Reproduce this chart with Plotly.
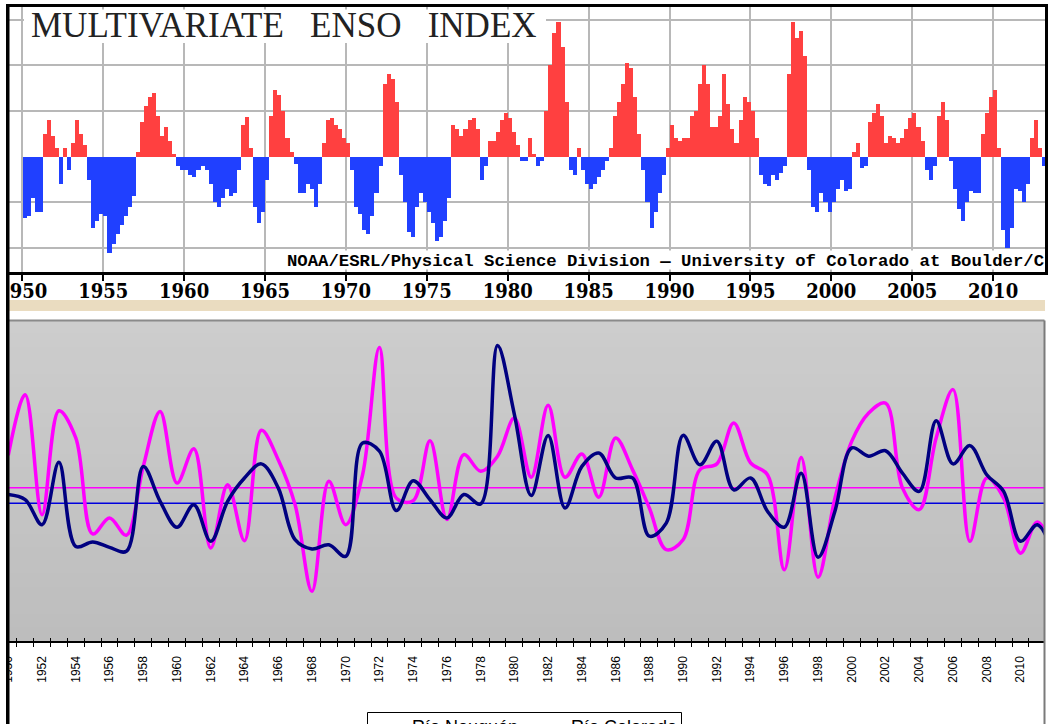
import plotly.graph_objects as go

# ---------------- DATA ----------------
# Multivariate ENSO Index, quarterly values (Q1..Q4)
mei_first_year = 1950
mei_quarterly = [
    [-1.35, -1.30, -0.90, -1.20],  # 1950
    [-1.20, 0.50, 0.80, 0.45],     # 1951
    [0.20, -0.60, 0.20, -0.30],    # 1952
    [0.30, 0.80, 0.50, 0.25],      # 1953
    [-0.50, -1.55, -1.40, -1.25],  # 1954
    [-1.30, -2.10, -1.90, -1.70],  # 1955
    [-1.50, -1.30, -1.10, -0.85],  # 1956
    [0.10, 0.75, 1.10, 1.30],      # 1957
    [1.40, 0.90, 0.45, 0.65],      # 1958
    [0.35, 0.05, -0.20, -0.30],    # 1959
    [-0.30, -0.40, -0.45, -0.30],  # 1960
    [-0.20, -0.30, -0.60, -1.00],  # 1961
    [-1.10, -0.90, -0.70, -0.85],  # 1962
    [-0.80, -0.30, 0.70, 0.86],    # 1963
    [0.20, -1.10, -1.45, -1.20],   # 1964
    [-0.50, 0.90, 1.45, 1.35],     # 1965
    [1.00, 0.40, 0.10, -0.15],     # 1966
    [-0.80, -0.80, -0.60, -0.70],  # 1967
    [-1.10, -0.60, 0.30, 0.80],    # 1968
    [0.85, 0.70, 0.60, 0.40],      # 1969
    [0.30, -0.30, -1.10, -1.25],   # 1970
    [-1.60, -1.70, -1.30, -0.80],  # 1971
    [-0.20, 1.60, 1.80, 1.70],     # 1972
    [1.20, -0.40, -1.00, -1.65],   # 1973
    [-1.75, -1.10, -0.80, -1.00],  # 1974
    [-1.20, -1.45, -1.85, -1.75],  # 1975
    [-1.40, -0.90, 0.70, 0.60],    # 1976
    [0.45, 0.60, 0.80, 0.85],      # 1977
    [0.60, -0.50, -0.20, 0.35],    # 1978
    [0.35, 0.55, 0.80, 0.95],      # 1979
    [0.85, 0.55, 0.25, -0.10],     # 1980
    [-0.10, 0.40, 0.05, -0.20],    # 1981
    [-0.10, 1.00, 2.00, 2.70],     # 1982
    [2.95, 2.40, 1.20, -0.30],     # 1983
    [-0.40, 0.20, -0.30, -0.60],   # 1984
    [-0.70, -0.60, -0.45, -0.30],  # 1985
    [-0.10, 0.20, 0.90, 1.20],     # 1986
    [1.60, 2.05, 1.95, 1.30],      # 1987
    [0.50, -0.30, -1.00, -1.55],   # 1988
    [-1.20, -0.80, -0.40, 0.20],   # 1989
    [0.70, 0.40, 0.35, 0.40],      # 1990
    [0.40, 0.90, 1.00, 1.60],      # 1991
    [2.00, 1.60, 0.65, 0.65],      # 1992
    [0.90, 1.80, 1.15, 0.60],      # 1993
    [0.30, 0.80, 1.30, 1.20],      # 1994
    [1.00, 0.40, -0.40, -0.60],    # 1995
    [-0.65, -0.40, -0.50, -0.35],  # 1996
    [-0.20, 1.80, 2.95, 2.60],     # 1997
    [2.75, 2.20, -0.30, -1.10],    # 1998
    [-1.20, -0.80, -1.00, -1.20],  # 1999
    [-1.00, -0.70, -0.50, -0.75],  # 2000
    [-0.70, 0.10, 0.30, -0.25],    # 2001
    [-0.20, 0.75, 0.95, 1.15],     # 2002
    [0.90, 0.30, 0.45, 0.40],      # 2003
    [0.30, 0.40, 0.60, 0.85],      # 2004
    [0.95, 0.65, 0.35, -0.30],     # 2005
    [-0.50, -0.20, 0.90, 1.20],    # 2006
    [0.80, -0.10, -0.70, -1.15],   # 2007
    [-1.40, -1.00, -0.75, -0.80],  # 2008
    [-0.80, 0.50, 0.95, 1.30],     # 2009
    [1.45, 0.20, -1.60, -2.00],    # 2010
    [-1.55, -0.70, -0.75, -1.00],  # 2011
    [-0.60, 0.40, 0.80, 0.20],     # 2012
    [-0.20],                       # 2013
]
mei_tick_years = list(range(1950, 2011, 5))
mei_grid_values = [-2, -1, 1, 2, 3]

# River flow series (annual, relative units)
anios = list(range(1950, 2013))
rio_neuquen = [
    57.9, 76.8, 39.3, 71.8, 63.3, 33.3, 38.3, 32.9, 54.4, 71.6,
    49.2, 59.9, 28.9, 48.7, 31.2, 65.7, 56.5, 42.4, 15.4, 49.8,
    36.2, 51.8, 91.6, 44.5, 43.7, 62.4, 37.8, 58.1, 52.9, 57.6,
    69.5, 51.0, 73.5, 51.0, 58.3, 44.8, 63.3, 53.4, 41.4, 28.4,
    31.5, 53.4, 55.2, 68.0, 55.5, 51.8, 22.1, 57.2, 19.8, 44.5,
    62.3, 71.1, 74.2, 47.7, 40.9, 63.3, 78.4, 31.0, 50.8, 44.5,
    27.3, 37.0, 28.0,
]
rio_colorado = [
    45.6, 44.0, 36.2, 55.7, 29.4, 30.8, 29.1, 27.9, 54.4, 43.5,
    35.4, 42.4, 31.0, 43.5, 50.8, 55.2, 47.7, 31.5, 28.6, 29.9,
    26.3, 61.7, 59.2, 40.6, 49.9, 44.0, 38.3, 45.6, 42.7, 92.2,
    70.6, 45.3, 64.1, 41.4, 54.4, 58.6, 50.8, 50.8, 32.6, 36.7,
    64.1, 54.9, 62.3, 47.1, 50.8, 40.4, 35.4, 52.3, 26.0, 40.4,
    60.2, 57.6, 59.3, 52.3, 46.6, 68.7, 55.2, 60.9, 51.8, 46.6,
    31.0, 36.2, 25.8,
]
media_neuquen = 47.7
media_colorado = 42.9
etiqueta_anios = list(range(1950, 2011, 2))

# ---------------- LAYOUT HELPERS ----------------
W, H = 1050, 724


def fx(px):
    return px / W


def fy(py):
    return 1 - py / H


RED, BLUE = "#ff4040", "#2040ff"
GRID = "#b8b8b8"

# ---------------- FIGURE ----------------
fig = go.Figure()

# MEI bars
mei_x, mei_y = [], []
for i, vals in enumerate(mei_quarterly):
    for q, v in enumerate(vals):
        mei_x.append(mei_first_year + i + (q + 0.5) * 0.25)
        mei_y.append(v)
fig.add_trace(go.Bar(
    x=mei_x, y=mei_y, width=0.25,
    marker=dict(color=[RED if v >= 0 else BLUE for v in mei_y], line=dict(width=0)),
    xaxis="x", yaxis="y", showlegend=False, hoverinfo="skip",
))

# Mean lines (drawn on the main lower axis, under the series)
fig.add_trace(go.Scatter(
    x=anios, y=[media_neuquen] * len(anios), mode="lines",
    line=dict(color="#ff00ff", width=1.5), xaxis="x2", yaxis="y2",
    showlegend=False, hoverinfo="skip",
))
fig.add_trace(go.Scatter(
    x=anios, y=[media_colorado] * len(anios), mode="lines",
    line=dict(color="#0000dd", width=1.5), xaxis="x2", yaxis="y2",
    showlegend=False, hoverinfo="skip",
))

# River series (overlay axis so they sit on top)
fig.add_trace(go.Scatter(
    x=anios, y=rio_neuquen, mode="lines", name="Río Neuquén",
    line=dict(color="#ff00ff", width=3.5, shape="spline", smoothing=1.0),
    xaxis="x3", yaxis="y2",
))
fig.add_trace(go.Scatter(
    x=anios, y=rio_colorado, mode="lines", name="Río Colorado",
    line=dict(color="#000080", width=3.5, shape="spline", smoothing=1.0),
    xaxis="x3", yaxis="y2",
))

# --- axis geometry ---
px_per_year_top = 16.18
x1950_top = 22.3
top_left, top_right = 7.75, 1045.0
top_top, top_bottom = 7.0, 272.0
zero_top, px_per_unit = 156.7, 45.7

bot_left, bot_right = 8.3, 1044.5
bot_top, bot_bottom = 320.5, 640.5
px_per_year_bot = 16.87

x_range_top = [1950 + (top_left - x1950_top) / px_per_year_top,
               1950 + (top_right - x1950_top) / px_per_year_top]
y_range_top = [(zero_top - top_bottom) / px_per_unit, (zero_top - top_top) / px_per_unit]
x_range_bot = [1950, 1950 + (bot_right - bot_left) / px_per_year_bot]

slab = "DejaVu Serif Condensed, DejaVu Serif, serif"
boundaries = [a + 0.5 for a in range(1949, 2012)]

fig.update_layout(
    width=W, height=H,
    margin=dict(l=0, r=0, t=0, b=0, autoexpand=False),
    paper_bgcolor="white", plot_bgcolor="white",
    bargap=0,
    xaxis=dict(
        domain=[fx(top_left), fx(top_right)], range=x_range_top, anchor="y",
        tickmode="array", tickvals=mei_tick_years, ticktext=[str(t) for t in mei_tick_years],
        ticks="outside", ticklen=6, tickwidth=2, tickcolor="black",
        ticklabelstandoff=-7, ticklabeloverflow="allow",
        showline=True, mirror=True, linecolor="black", linewidth=3,
        showgrid=True, gridcolor=GRID, gridwidth=2, zeroline=False,
        layer="above traces",
        tickfont=dict(family=slab, size=20, color="black", weight="bold"),
    ),
    yaxis=dict(
        domain=[fy(top_bottom), fy(top_top)], range=y_range_top, anchor="x",
        tickmode="array", tickvals=mei_grid_values, showticklabels=False, ticks="",
        showline=True, mirror=True, linecolor="black", linewidth=3,
        showgrid=True, gridcolor=GRID, gridwidth=2, zeroline=False,
        layer="above traces",
    ),
    xaxis2=dict(
        domain=[fx(bot_left), fx(bot_right)], range=x_range_bot, anchor="y2",
        tickmode="array", tickvals=etiqueta_anios, ticktext=[str(a) for a in etiqueta_anios],
        ticks="", tickangle=-90, ticklabelstandoff=9, ticklabeloverflow="allow",
        tickfont=dict(family="Arial, Liberation Sans, sans-serif", size=12, color="black"),
        showline=True, linecolor="black", linewidth=1.5,
        showgrid=False, zeroline=False,
        minor=dict(tickmode="array", tickvals=boundaries, ticks="outside",
                   ticklen=5, tickwidth=1, tickcolor="black", showgrid=False),
    ),
    xaxis3=dict(
        domain=[fx(bot_left), fx(bot_right)], range=x_range_bot, anchor="y2",
        overlaying="x2", tickmode="array", tickvals=boundaries,
        ticks="inside", ticklen=3, tickwidth=1, tickcolor="black",
        showticklabels=False, showline=False, showgrid=False, zeroline=False,
    ),
    yaxis2=dict(
        domain=[fy(bot_bottom), fy(bot_top)], range=[0, 100], anchor="x2",
        showticklabels=False, ticks="", showgrid=False, zeroline=False, showline=False,
    ),
    legend=dict(
        orientation="h", x=fx(372), xanchor="left", y=fy(707.5), yanchor="top",
        bgcolor="rgba(0,0,0,0)", borderwidth=0,
        font=dict(family="Arial, Liberation Sans, sans-serif", size=18, color="black"),
        itemwidth=30, entrywidth=114, traceorder="normal",
    ),
    showlegend=True,
)

shapes = []
# gradient background of lower plot (each band reaches the bottom: no seams)
n_bands = 24
c_top, c_bot = 205, 189
for i in range(n_bands):
    c = round(c_top + (c_bot - c_top) * (i + 0.5) / n_bands)
    shapes.append(dict(
        type="rect", xref="x2 domain", yref="y2 domain", layer="below",
        x0=0, x1=1, y0=0, y1=1 - i / n_bands,
        fillcolor=f"rgb({c},{c},{c})", line=dict(width=0),
    ))
# lower plot border (top and right)
shapes.append(dict(type="line", xref="paper", yref="paper",
                   x0=fx(bot_left), x1=fx(bot_right), y0=fy(bot_top), y1=fy(bot_top),
                   line=dict(color="#8a8a8a", width=2), layer="above"))
shapes.append(dict(type="line", xref="paper", yref="paper",
                   x0=fx(bot_right), x1=fx(bot_right), y0=fy(bot_top), y1=0,
                   line=dict(color="#7a7a7a", width=2), layer="above"))
# legend frame (the picture is cut below it)
shapes.append(dict(type="rect", xref="paper", yref="paper",
                   x0=fx(367.5), x1=fx(681.5), y0=fy(745), y1=fy(712.5),
                   fillcolor="white", line=dict(color="black", width=1), layer="below"))
# beige strip under the MEI image
shapes.append(dict(type="rect", xref="paper", yref="paper",
                   x0=fx(9), x1=fx(1045), y0=fy(311), y1=fy(300),
                   fillcolor="#eadcc0", line=dict(width=0), layer="above"))
# white boxes behind title and credit
shapes.append(dict(type="rect", xref="paper", yref="paper",
                   x0=fx(24), x1=fx(546), y0=fy(43), y1=fy(9.5),
                   fillcolor="white", line=dict(width=0), layer="above"))
shapes.append(dict(type="rect", xref="paper", yref="paper",
                   x0=fx(280), x1=fx(1043.5), y0=fy(269.5), y1=fy(250.5),
                   fillcolor="white", line=dict(width=0), layer="above"))
# left crop margin and black border
shapes.append(dict(type="rect", xref="paper", yref="paper",
                   x0=0, x1=fx(6), y0=0, y1=1,
                   fillcolor="white", line=dict(width=0), layer="above"))
shapes.append(dict(type="rect", xref="paper", yref="paper",
                   x0=fx(6), x1=fx(9.5), y0=0, y1=fy(5.5),
                   fillcolor="black", line=dict(width=0), layer="above"))
fig.update_layout(shapes=shapes)

fig.add_annotation(
    text="MULTIVARIATE\u00a0\u00a0\u00a0ENSO\u00a0\u00a0\u00a0INDEX", showarrow=False,
    xref="paper", yref="paper", x=fx(29), xanchor="left", y=fy(26), yanchor="middle",
    font=dict(family="Liberation Serif, Times New Roman, serif", size=35, color="#222222"),
)
fig.add_annotation(
    text="NOAA/ESRL/Physical Science Division \u2014 University of Colorado at Boulder/C",
    showarrow=False, xref="paper", yref="paper",
    x=fx(285), xanchor="left", y=fy(261.5), yanchor="middle",
    font=dict(family="Liberation Mono, Courier New, monospace", size=17.3,
              color="black", weight="bold"),
)

fig.write_html(
    "out.html",
    config={"displayModeBar": False},
    post_script="document.body.style.margin='0px';document.body.style.overflow='hidden';",
)
